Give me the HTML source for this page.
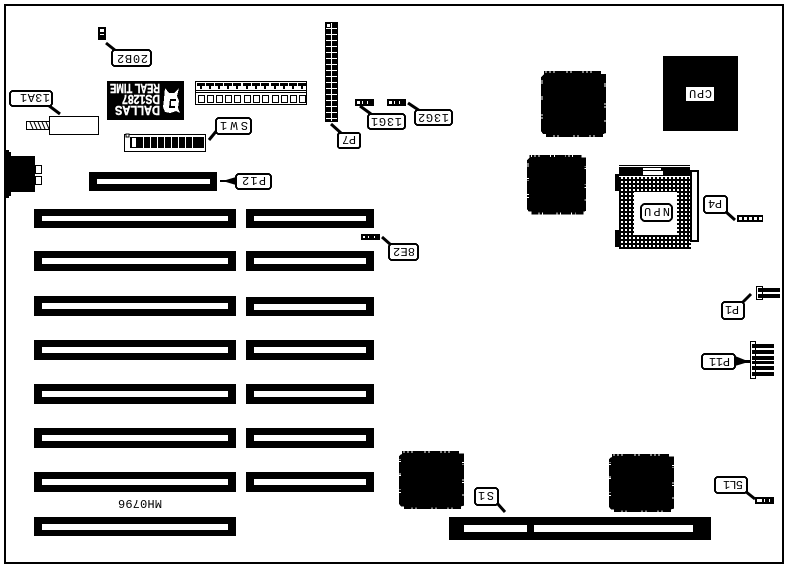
<!DOCTYPE html>
<html><head><meta charset="utf-8"><style>
html,body{margin:0;padding:0;background:#fff}
svg{display:block}
text{font-family:"Liberation Mono",monospace;font-size:12px;fill:#000}
.b{font-family:"Liberation Sans",sans-serif;font-weight:bold;fill:#fff;stroke:#fff;stroke-width:.4;font-size:13px}
.l{fill:#fff;stroke:#000;stroke-width:2}
.t{stroke:#000;stroke-width:3;fill:none}
.k{stroke:#fff;stroke-width:1;fill:none}
</style></head><body>
<svg width="791" height="569" viewBox="0 0 791 569" xmlns="http://www.w3.org/2000/svg" shape-rendering="crispEdges">
<defs>
<pattern id="dots" width="4" height="4" patternUnits="userSpaceOnUse" x="0" y="0"><rect width="4" height="4" fill="#000"/><rect x="1" y="1" width="2" height="2" fill="#fff"/></pattern>
<pattern id="grid" width="6" height="6" patternUnits="userSpaceOnUse" x="326" y="23"><rect width="6" height="6" fill="#000"/><rect x="5" width="1" height="6" fill="#fff"/><rect y="5" width="6" height="1" fill="#fff"/></pattern>
<g id="chip">
<path d="M3,0H60V3H65V62L62,63V66H5V63H2L0,60V6L3,3Z" fill="#000"/>
<path class="k" d="M5,0V2M9,0V2M13,0V2M26,0V2M30,0V2M42,0V2M46,0V2M50,0V2M0,10H2M0,12H2M0,26H2M0,28H2M0,44H2M0,47H2M63,13H65M63,15H65M63,33H65M63,36H65M63,50H65M13,64V66M17,64V66M33,64V66M37,64V66M49,64V66M53,64V66"/>
</g>
</defs>
<rect width="791" height="569" fill="#fff"/>
<rect x="5" y="5" width="778" height="558" fill="none" stroke="#000" stroke-width="2"/>

<!-- slots -->
<g fill="#000">
<rect x="34" y="209" width="202" height="19"/><rect x="34" y="251" width="202" height="20"/><rect x="34" y="296" width="202" height="20"/><rect x="34" y="340" width="202" height="20"/><rect x="34" y="384" width="202" height="20"/><rect x="34" y="428" width="202" height="20"/><rect x="34" y="472" width="202" height="20"/><rect x="34" y="517" width="202" height="19"/>
<rect x="246" y="209" width="128" height="19"/><rect x="246" y="251" width="128" height="20"/><rect x="246" y="297" width="128" height="19"/><rect x="246" y="340" width="128" height="20"/><rect x="246" y="384" width="128" height="20"/><rect x="246" y="428" width="128" height="20"/><rect x="246" y="472" width="128" height="20"/>
<rect x="89" y="172" width="128" height="19"/>
<rect x="449" y="517" width="262" height="23"/>
</g>
<g fill="#fff">
<rect x="42" y="216" width="186" height="5"/><rect x="42" y="258" width="186" height="6"/><rect x="42" y="303" width="186" height="6"/><rect x="42" y="347" width="186" height="6"/><rect x="42" y="391" width="186" height="6"/><rect x="42" y="435" width="186" height="6"/><rect x="42" y="479" width="186" height="6"/><rect x="42" y="524" width="186" height="6"/>
<rect x="254" y="216" width="112" height="5"/><rect x="254" y="258" width="112" height="6"/><rect x="254" y="304" width="112" height="6"/><rect x="254" y="347" width="112" height="6"/><rect x="254" y="391" width="112" height="6"/><rect x="254" y="435" width="112" height="6"/><rect x="254" y="479" width="112" height="6"/>
<rect x="97" y="179" width="113" height="5"/>
<rect x="464" y="525" width="63" height="7"/><rect x="534" y="525" width="159" height="7"/>
</g>

<!-- chips -->
<use href="#chip" transform="translate(541 71)"/>
<use href="#chip" transform="translate(527 155) scale(.91 .9)"/>
<use href="#chip" transform="translate(399 451) scale(1 .88)"/>
<use href="#chip" transform="translate(609 454) scale(1 .88)"/>
<rect x="663" y="56" width="75" height="75" fill="#000"/>
<rect x="686" y="87" width="28" height="14" fill="#fff"/>
<text transform="rotate(180 712 90)" x="712" y="90" textLength="23" lengthAdjust="spacing">CPU</text>

<!-- NPU socket -->
<rect x="619" y="165" width="71" height="1" fill="#000"/>
<rect x="619" y="167" width="71" height="9" fill="#000"/>
<rect x="643" y="168" width="18" height="2" fill="#fff"/><rect x="643" y="171" width="20" height="4" fill="#fff"/>
<rect x="619" y="177" width="72" height="72" fill="url(#dots)"/>
<rect x="634" y="192" width="43" height="43" fill="#fff"/>
<path d="M615,174h4v17h-4zM615,230h4v17h-4z" fill="#000"/>
<rect x="691" y="171" width="7" height="70" fill="#fff" stroke="#000" stroke-width="2"/>
<rect x="641" y="204" width="31" height="17" rx="4" class="l" stroke-width="3"/>
<text transform="rotate(180 670 208)" x="670" y="208" textLength="26" lengthAdjust="spacing">NPU</text>

<!-- DALLAS -->
<rect x="107" y="81" width="77" height="39" fill="#000"/>
<text class="b" transform="rotate(180 160 84)" x="160" y="84" textLength="50" lengthAdjust="spacingAndGlyphs">REAL TIME</text>
<text class="b" transform="rotate(180 160 95)" x="160" y="95" textLength="38" lengthAdjust="spacingAndGlyphs">DS1287</text>
<text class="b" transform="rotate(180 160 106)" x="160" y="106" textLength="45" lengthAdjust="spacingAndGlyphs">DALLAS</text>
<path d="M165,88l4,5h5l5,-5l-2,8l2,5l-1,7l2,5l-4,-2l-6,2l-5,-1l-2,-5l1,-8z" fill="#fff"/>
<path d="M170,99h6v2h-5v5h4v2h-6z" fill="#000"/>

<!-- strip -->
<rect x="195.500" y="81.500" width="111" height="23" fill="#fff" stroke="#000"/>
<path fill="#000" d="M197,83h8v3h-3v3h-2v-3h-3zM206,83h8v3h-3v3h-2v-3h-3zM215,83h8v3h-3v3h-2v-3h-3zM224,83h8v3h-3v3h-2v-3h-3zM233,83h8v3h-3v3h-2v-3h-3zM243,83h8v3h-3v3h-2v-3h-3zM252,83h8v3h-3v3h-2v-3h-3zM261,83h8v3h-3v3h-2v-3h-3zM271,83h8v3h-3v3h-2v-3h-3zM280,83h8v3h-3v3h-2v-3h-3zM289,83h8v3h-3v3h-2v-3h-3zM298,83h8v3h-3v3h-2v-3h-3z"/>
<path fill="none" stroke="#000" d="M196,90.500H306M196,92.500H306"/>
<path fill="none" stroke="#000" d="M198.500,95.500h6v7h-6zM207.500,95.500h6v7h-6zM216.500,95.500h6v7h-6zM225.500,95.500h6v7h-6zM234.500,95.500h6v7h-6zM244.500,95.500h6v7h-6zM253.500,95.500h6v7h-6zM262.500,95.500h6v7h-6zM272.500,95.500h6v7h-6zM281.500,95.500h6v7h-6zM290.500,95.500h6v7h-6zM299.500,95.500h6v7h-6z"/>

<!-- switch -->
<rect x="124.500" y="134.500" width="81" height="17" fill="#fff" stroke="#000"/>
<rect x="130" y="137" width="74" height="11" fill="#000"/>
<rect x="132" y="138" width="4" height="9" fill="#fff"/>
<path class="k" d="M143.500,137V148M150.500,137V148M157.500,137V148M164.500,137V148M171.500,137V148M178.500,137V148M185.500,137V148M192.500,137V148"/>
<rect x="126" y="134" width="3" height="3" fill="#fff" stroke="#000" stroke-width="1"/>

<!-- battery -->
<rect x="49.500" y="116.500" width="49" height="18" fill="#fff" stroke="#000"/>
<rect x="26.500" y="121.500" width="23" height="8" fill="#fff" stroke="#000"/>
<path d="M30,122l3,7M34,122l3,7M38,122l3,7M42,122l3,7M46,122l3,7" stroke="#000" fill="none" shape-rendering="auto"/>

<!-- db connector -->
<path d="M6,150H9V152H11V156H35V192H11V196H9V198H6Z" fill="#000"/>
<rect x="35.500" y="165.500" width="6" height="8" fill="#fff" stroke="#000"/><rect x="35.500" y="176.500" width="6" height="8" fill="#fff" stroke="#000"/>

<!-- P7 -->
<rect x="325" y="22" width="13" height="100" fill="#000"/>
<rect x="326" y="23" width="11" height="98" fill="url(#grid)"/>
<rect x="327" y="24" width="3" height="3" fill="#fff"/>

<!-- jumpers -->
<g fill="#000">
<rect x="98" y="27" width="8" height="13"/>
<rect x="355" y="99" width="19" height="7"/><rect x="387" y="99" width="19" height="7"/><rect x="361" y="234" width="19" height="6"/>
<rect x="755" y="497" width="19" height="7"/><rect x="737" y="215" width="26" height="7"/>
</g>
<g fill="#fff">
<rect x="100" y="29" width="4" height="3"/><rect x="100" y="34" width="4" height="1"/>
<rect x="357" y="101" width="3" height="3"/><rect x="362" y="101" width="1" height="3"/><rect x="367" y="101" width="1" height="3"/>
<rect x="389" y="101" width="3" height="3"/><rect x="394" y="101" width="1" height="3"/><rect x="399" y="101" width="1" height="3"/>
<rect x="363" y="236" width="2" height="2"/><rect x="368" y="236" width="1" height="2"/><rect x="374" y="236" width="1" height="2"/>
<rect x="757" y="499" width="5" height="3"/><rect x="764" y="499" width="1" height="3"/><rect x="769" y="499" width="1" height="3"/>
<rect x="739" y="217" width="3" height="3"/><rect x="744" y="217" width="3" height="3"/><rect x="749" y="217" width="3" height="3"/><rect x="754" y="217" width="3" height="3"/><rect x="759" y="217" width="3" height="3"/>
</g>

<!-- P1 & P11 -->
<rect x="756.500" y="286.500" width="6" height="13" fill="#fff" stroke="#000"/>
<rect x="758" y="288" width="22" height="4" fill="#000"/><rect x="758" y="294" width="22" height="4" fill="#000"/>
<rect x="750.500" y="341.500" width="5" height="37" fill="#fff" stroke="#000"/>
<g fill="#000"><rect x="752" y="344" width="22" height="4"/><rect x="752" y="350" width="22" height="4"/><rect x="752" y="356" width="22" height="4"/><rect x="752" y="361" width="22" height="3"/><rect x="752" y="366" width="22" height="4"/><rect x="752" y="372" width="22" height="4"/></g>

<!-- leaders -->
<g class="t" shape-rendering="auto">
<path d="M106,43L116,51"/><path d="M48,105L60,114"/><path d="M218,129L209,140"/><path d="M331,124L341,133"/><path d="M360,106L371,114"/><path d="M408,103L420,111"/><path d="M382,237L391,245"/><path d="M725,211L735,220"/><path d="M742,303L751,294"/><path d="M497,503L505,512"/><path d="M745,491L755,499"/>
</g>
<path d="M220,180h6l10,-3v8l-10,-3h-6z" fill="#000" shape-rendering="auto"/>
<path d="M751,360h-6l-10,-4v10l10,-3h6z" fill="#000" shape-rendering="auto"/>

<!-- callouts -->
<rect class="l" x="112" y="50" width="39" height="16" rx="3"/>
<text transform="rotate(180 148 55)" x="148" y="55" textLength="31" lengthAdjust="spacing">20B2</text>
<rect class="l" x="10" y="91" width="42" height="15" rx="3"/>
<text transform="rotate(180 50 94)" x="50" y="94" textLength="30" lengthAdjust="spacing">13A1</text>
<rect class="l" x="216" y="118" width="35" height="16" rx="3"/>
<text transform="rotate(180 248 122)" x="248" y="122" textLength="28" lengthAdjust="spacing">SW1</text>
<rect class="l" x="236" y="174" width="35" height="15" rx="3"/>
<text transform="rotate(180 266 177)" x="266" y="177" textLength="24" lengthAdjust="spacing">P12</text>
<rect class="l" x="338" y="133" width="22" height="15" rx="2"/>
<text transform="rotate(180 356 136)" x="356" y="136" textLength="14" lengthAdjust="spacing">P7</text>
<rect class="l" x="368" y="114" width="37" height="15" rx="3"/>
<text transform="rotate(180 402 118)" x="402" y="118" textLength="31" lengthAdjust="spacing">13G1</text>
<rect class="l" x="415" y="110" width="37" height="15" rx="3"/>
<text transform="rotate(180 449 114)" x="449" y="114" textLength="31" lengthAdjust="spacing">13G2</text>
<rect class="l" x="389" y="244" width="29" height="16" rx="3"/>
<text transform="rotate(180 415 248)" x="415" y="248" textLength="22" lengthAdjust="spacing">8E2</text>
<rect class="l" x="704" y="196" width="23" height="17" rx="3"/>
<text transform="rotate(180 722 200)" x="722" y="200" textLength="14" lengthAdjust="spacing">P4</text>
<rect class="l" x="722" y="302" width="22" height="17" rx="3"/>
<text transform="rotate(180 739 306)" x="739" y="306" textLength="14" lengthAdjust="spacing">P1</text>
<rect class="l" x="702" y="354" width="33" height="15" rx="3"/>
<text transform="rotate(180 730 358)" x="730" y="358" textLength="21" lengthAdjust="spacing">P11</text>
<rect class="l" x="475" y="488" width="23" height="17" rx="3"/>
<text transform="rotate(180 494 492)" x="494" y="492" textLength="16" lengthAdjust="spacing">S1</text>
<rect class="l" x="715" y="477" width="32" height="16" rx="3"/>
<text transform="rotate(180 743 481)" x="743" y="481" textLength="20" lengthAdjust="spacing">5L1</text>
<text transform="rotate(180 162 500)" x="162" y="500" textLength="44" lengthAdjust="spacing">MH0796</text>
</svg>
</body></html>
